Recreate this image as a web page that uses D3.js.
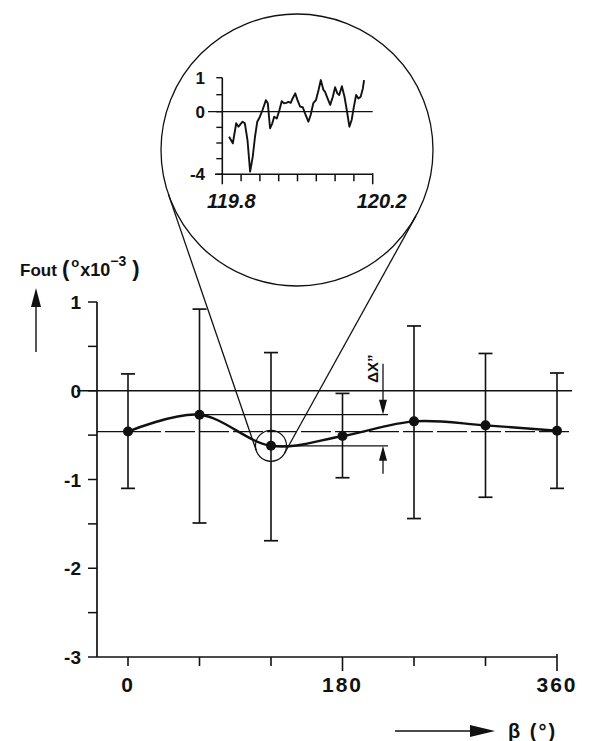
<!DOCTYPE html>
<html><head><meta charset="utf-8">
<script src="https://cdn.jsdelivr.net/npm/d3@7"></script>
<style>body{margin:0;background:#fff}svg{display:block}text{font-family:"Liberation Sans",Arial,sans-serif;font-weight:bold;fill:#111}</style>
</head><body>
<svg id="c" width="595" height="741"></svg>
<script>
// ---- data ----
const beta = [0, 60, 120, 180, 240, 300, 360];
const fout = [-0.46, -0.27, -0.62, -0.51, -0.345, -0.39, -0.45];
const errHi = [0.19, 0.92, 0.43, -0.03, 0.73, 0.42, 0.20];
const errLo = [-1.10, -1.49, -1.69, -0.98, -1.44, -1.20, -1.10];
const meanLevel = -0.46;
const xTickVals = [0, 60, 120, 180, 240, 300, 360];
const xTickLabels = ["0", "", "", "180", "", "", "360"];
const yTickVals = [1, 0.5, 0, -0.5, -1, -1.5, -2, -2.5, -3];
const yTickLabels = ["1", "", "0", "", "-1", "", "-2", "", "-3"];
// inset (zoom around beta = 120)
const insetX = [119.818,119.828,119.837,119.843,119.854,119.860,119.867,119.874,119.881,119.887,119.893,119.900,119.907,119.916,119.921,119.927,119.933,119.938,119.945,119.952,119.958,119.964,119.970,119.976,119.982,119.987,119.994,120.000,120.007,120.014,120.020,120.029,120.035,120.042,120.049,120.056,120.062,120.069,120.073,120.080,120.087,120.094,120.100,120.106,120.111,120.118,120.125,120.131,120.138,120.144,120.150,120.156,120.162,120.168,120.174,120.177];
const insetY = [-1.60,-2.02,-0.74,-0.96,-0.64,-0.74,-1.81,-3.83,-2.87,-1.60,-0.64,-0.32,0.05,0.34,0.25,-1.06,-0.74,-0.32,-0.43,0.05,0.31,0.25,0.26,0.29,0.26,0.39,0.54,0.34,0.15,0.13,-0.11,-0.64,-0.21,0.25,0.34,0.64,0.93,0.64,0.59,0.39,0.20,0.44,0.72,0.54,0.49,0.75,0.44,0.05,-0.96,-0.53,0.15,0.49,0.39,0.44,0.69,0.93];
const insetXTicks = [119.80,119.85,119.90,119.95,120.00,120.05,120.10,120.15,120.20];
const insetXLabels = ["119.8","","","","","","","","120.2"];
const insetYTicks = [1, 0.5, 0, -1, -2, -3, -4];
const insetYLabels = ["1","","0","","","","-4"];
const zoomCenter = 120;

// ---- layout ----
const svg = d3.select("#c");
const x = d3.scaleLinear().domain([0, 360]).range([128, 557]);
const y = d3.scaleLinear().domain([-3, 1]).range([657, 302]);
const axisX0 = 97;
const ink = "#111";

const g = svg.append("g").attr("stroke", ink).attr("fill", "none");

// y axis
g.append("line").attr("x1", axisX0).attr("x2", axisX0).attr("y1", y(1)).attr("y2", y(-3)).attr("stroke-width", 1.7);
yTickVals.forEach((v, i) => {
  g.append("line").attr("x1", axisX0 - 9).attr("x2", axisX0).attr("y1", y(v)).attr("y2", y(v)).attr("stroke-width", 1.5);
  if (yTickLabels[i]) svg.append("text").attr("x", 81).attr("y", y(v) + 7).attr("text-anchor", "end")
    .attr("font-size", 19).text(yTickLabels[i]);
});
// x axis
g.append("line").attr("x1", axisX0).attr("x2", x(360)).attr("y1", y(-3)).attr("y2", y(-3)).attr("stroke-width", 1.7);
xTickVals.forEach((v, i) => {
  const major = (v === 180 || v === 360);
  g.append("line").attr("x1", x(v)).attr("x2", x(v)).attr("y1", y(-3) - (v === 360 ? 3 : 0)).attr("y2", y(-3) + (major ? 14 : 9)).attr("stroke-width", 1.6);
  if (xTickLabels[i]) svg.append("text").attr("x", x(v)).attr("y", 692).attr("text-anchor", "middle")
    .attr("font-size", 21).attr("letter-spacing", 2).text(xTickLabels[i]);
});

// zero line and mean (dashed) line
g.append("line").attr("x1", 77).attr("x2", 572).attr("y1", y(0)).attr("y2", y(0)).attr("stroke-width", 1.3);
g.append("line").attr("x1", axisX0).attr("x2", 572).attr("y1", y(meanLevel)).attr("y2", y(meanLevel))
  .attr("stroke-width", 1.3).attr("stroke-dasharray", "30,4");

// delta X'' reference lines
const iMax = fout.indexOf(d3.max(fout)), iMin = fout.indexOf(d3.min(fout));
const arrowX = 383;
g.append("line").attr("x1", x(beta[iMax])).attr("x2", arrowX + 5).attr("y1", y(fout[iMax])).attr("y2", y(fout[iMax])).attr("stroke-width", 1.2);
g.append("line").attr("x1", x(beta[iMin])).attr("x2", arrowX + 5).attr("y1", y(fout[iMin])).attr("y2", y(fout[iMin])).attr("stroke-width", 1.2);
// arrows
const yTop = y(fout[iMax]), yBot = y(fout[iMin]);
g.append("line").attr("x1", arrowX).attr("x2", arrowX).attr("y1", yTop - 51).attr("y2", yTop - 14).attr("stroke-width", 1.3);
svg.append("path").attr("d", `M${arrowX - 4},${yTop - 15}L${arrowX + 4},${yTop - 15}L${arrowX},${yTop}Z`).attr("fill", ink);
g.append("line").attr("x1", arrowX).attr("x2", arrowX).attr("y1", yBot + 14).attr("y2", yBot + 28).attr("stroke-width", 1.3);
svg.append("path").attr("d", `M${arrowX - 4},${yBot + 15}L${arrowX + 4},${yBot + 15}L${arrowX},${yBot}Z`).attr("fill", ink);
svg.append("text").attr("transform", `translate(378,${yTop - 46}) rotate(-90)`).attr("text-anchor", "middle")
  .attr("font-size", 15).text("\u0394X\u201D");

// error bars
beta.forEach((b, i) => {
  const cx = x(b);
  g.append("line").attr("x1", cx).attr("x2", cx).attr("y1", y(errHi[i])).attr("y2", y(errLo[i])).attr("stroke-width", 1.6);
  [errHi[i], errLo[i]].forEach(v => g.append("line").attr("x1", cx - 7).attr("x2", cx + 7).attr("y1", y(v)).attr("y2", y(v)).attr("stroke-width", 1.7));
});

// smooth curve
const line = d3.line().x((d, i) => x(beta[i])).y(d => y(d)).curve(d3.curveCardinal.tension(0));
g.append("path").attr("d", line(fout)).attr("stroke-width", 2.4);
svg.selectAll("circle.pt").data(fout).enter().append("circle").attr("class", "pt")
  .attr("cx", (d, i) => x(beta[i])).attr("cy", d => y(d)).attr("r", 5).attr("fill", ink);

// zoom circles
const zc = beta.indexOf(zoomCenter);
const C2 = [x(zoomCenter), y(fout[zc])], r2 = 15.5;
const C1 = [297, 150], r1 = 136;
g.append("circle").attr("cx", C2[0]).attr("cy", C2[1]).attr("r", r2).attr("stroke-width", 1.2);
g.append("circle").attr("cx", C1[0]).attr("cy", C1[1]).attr("r", r1).attr("stroke-width", 1.3);
// external tangents between the two circles
(function () {
  const dx = C1[0] - C2[0], dy = C1[1] - C2[1], D = Math.hypot(dx, dy);
  const ux = dx / D, uy = dy / D, k = (r1 - r2) / D, s = Math.sqrt(1 - k * k);
  [1, -1].forEach(sg => {
    const nnx = k * ux - sg * s * uy, nny = k * uy + sg * s * ux;
    g.append("line").attr("x1", C1[0] - r1 * nnx).attr("y1", C1[1] - r1 * nny)
      .attr("x2", C2[0] - r2 * nnx).attr("y2", C2[1] - r2 * nny).attr("stroke-width", 1.3);
  });
})();

// inset
const ix = d3.scaleLinear().domain([119.8, 120.2]).range([222.3, 372.7]);
const iy = d3.scaleLinear().domain([-4, 0, 1]).range([174.3, 111.7, 77.7]);
const ig = svg.append("g").attr("stroke", ink).attr("fill", "none");
ig.append("line").attr("x1", ix(119.8)).attr("x2", ix(119.8)).attr("y1", iy(1)).attr("y2", iy(-4)).attr("stroke-width", 1.6);
ig.append("line").attr("x1", 215).attr("x2", ix(120.2)).attr("y1", iy(-4)).attr("y2", iy(-4)).attr("stroke-width", 1.6);
ig.append("line").attr("x1", 208).attr("x2", ix(120.2)).attr("y1", iy(0)).attr("y2", iy(0)).attr("stroke-width", 1.2);
insetYTicks.forEach((v, i) => {
  ig.append("line").attr("x1", ix(119.8) - 6).attr("x2", ix(119.8)).attr("y1", iy(v)).attr("y2", iy(v)).attr("stroke-width", 1.4);
  if (insetYLabels[i]) svg.append("text").attr("x", 205).attr("y", iy(v) + 6).attr("text-anchor", "end")
    .attr("font-size", 17).text(insetYLabels[i]);
});
insetXTicks.forEach((v, i) => {
  const major = (i === 0 || i === insetXTicks.length - 1);
  ig.append("line").attr("x1", ix(v)).attr("x2", ix(v)).attr("y1", iy(-4) - (major ? 1 : 0)).attr("y2", iy(-4) + (major ? 10 : 7)).attr("stroke-width", 1.5);
  if (insetXLabels[i]) svg.append("text").attr("x", ix(v) + 9).attr("y", 208).attr("text-anchor", "middle")
    .attr("font-size", 20).attr("font-style", "italic").text(insetXLabels[i]);
});
const iline = d3.line().x((d, i) => ix(insetX[i])).y(d => iy(d));
ig.append("path").attr("d", iline(insetY)).attr("stroke-width", 1.9).attr("stroke-linejoin", "round");

// axis titles
const t = svg.append("text").attr("x", 62).attr("y", 276).attr("font-size", 17);
t.append("tspan").attr("font-size", 22).text("(");
t.append("tspan").attr("font-size", 13).attr("dy", -9).attr("dx", 2).text("o");
t.append("tspan").attr("font-size", 18).attr("dy", 9).attr("dx", 1).text("x10");
t.append("tspan").attr("font-size", 14).attr("dy", -10).text("\u22123");
t.append("tspan").attr("font-size", 22).attr("dy", 10).attr("dx", 6).text(")");
svg.append("text").attr("x", 20).attr("y", 276).attr("font-size", 17).text("Fout");
// up arrow on y title
svg.append("line").attr("x1", 36).attr("x2", 36).attr("y1", 352).attr("y2", 300).attr("stroke", ink).attr("stroke-width", 1.4);
svg.append("path").attr("d", "M31,307L41,307L36,288Z").attr("fill", ink);
// x title arrow
svg.append("line").attr("x1", 395).attr("x2", 476).attr("y1", 731).attr("y2", 731).attr("stroke", ink).attr("stroke-width", 1.4);
svg.append("path").attr("d", "M470,725L470,737L495,731Z").attr("fill", ink);
svg.append("text").attr("x", 508).attr("y", 738).attr("font-size", 20).attr("letter-spacing", 2).text("\u03B2 (\u00B0)");
</script>
</body></html>
